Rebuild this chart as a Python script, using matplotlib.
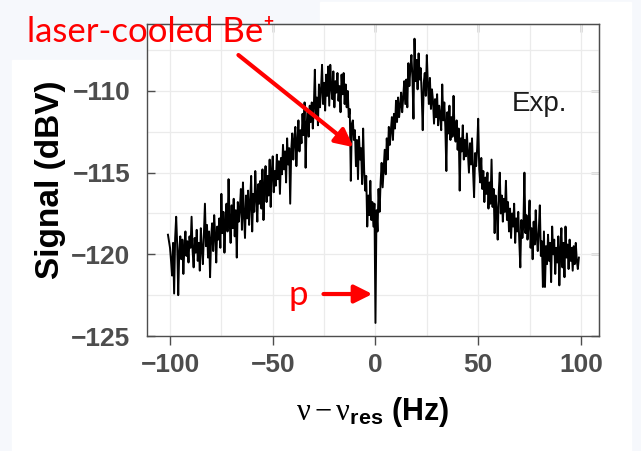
import numpy as np
import matplotlib
matplotlib.use("Agg")
from matplotlib import pyplot as plt
from matplotlib.patches import Rectangle
from matplotlib.ticker import MultipleLocator

# detuning grid of the recorded spectrum (Hz)
FREQ_START = -101.0
FREQ_STEP = 0.5

# measured signal (dBV), one value per grid point
SIGNAL_DBV = [
    -118.8, -119.2, -119.6, -120.4, -121.3, -119.3, -122.4, -119.0, -117.7, -119.4,
    -122.5, -119.8, -118.9, -120.3, -119.1, -121.2, -119.5, -118.6, -120.1, -119.2,
    -120.5, -118.9, -119.6, -117.7, -119.8, -120.8, -119.0, -119.9, -118.5, -120.4,
    -119.3, -121.0, -118.4, -119.7, -120.6, -118.8, -116.9, -119.5, -118.2, -120.2,
    -118.6, -121.4, -119.0, -118.1, -119.8, -117.6, -118.9, -120.5, -118.3, -119.1,
    -117.8, -119.6, -116.3, -118.7, -117.4, -119.9, -118.0, -116.9, -118.6, -115.4,
    -117.9, -119.3, -117.0, -118.4, -116.6, -118.9, -117.3, -120.2, -116.8, -118.0,
    -117.2, -116.0, -118.5, -115.6, -117.6, -119.0, -116.4, -117.8, -116.1, -118.2,
    -116.9, -115.2, -118.6, -116.3, -117.4, -114.9, -116.6, -118.0, -115.7, -116.9,
    -115.5, -117.2, -114.8, -117.9, -115.9, -114.6, -116.8, -115.2, -116.4, -114.2,
    -117.1, -115.0, -114.0, -116.2, -114.9, -115.8, -113.9, -115.4, -114.3, -116.3,
    -114.1, -115.1, -113.3, -114.8, -113.7, -115.6, -112.9, -114.5, -113.5, -116.9,
    -113.6, -112.6, -114.2, -113.0, -112.2, -114.6, -113.1, -111.8, -113.7, -112.4,
    -113.2, -111.4, -112.7, -110.7, -114.7, -112.0, -111.3, -112.8, -110.9, -111.9,
    -110.7, -112.3, -111.0, -108.7, -111.6, -110.4, -112.1, -109.6, -111.0, -109.9,
    -108.4, -110.8, -109.5, -111.2, -109.0, -110.3, -108.5, -110.9, -108.4, -109.8,
    -110.5, -108.8, -111.0, -109.4, -110.1, -108.9, -110.6, -109.7, -111.3, -109.0,
    -110.2, -108.9, -110.8, -109.6, -111.0, -110.0, -111.6, -111.1, -115.5, -112.0,
    -111.8, -113.0, -112.4, -114.6, -113.0, -115.4, -112.8, -114.2, -113.5, -115.7,
    -112.3, -114.9, -116.1, -115.2, -118.3, -116.4, -117.6, -115.5, -117.9, -116.8,
    -118.3, -116.9, -124.2, -117.3, -118.6, -116.0, -117.4, -115.6, -114.4, -115.9,
    -114.7, -113.6, -115.1, -112.9, -114.2, -112.2, -113.3, -112.4, -111.6, -113.0,
    -111.4, -112.3, -110.6, -111.9, -110.4, -111.6, -110.9, -110.1, -111.3, -110.4,
    -109.4, -110.8, -109.3, -111.0, -108.3, -109.7, -108.6, -107.8, -109.2, -111.7,
    -106.8, -109.4, -108.1, -109.9, -107.7, -109.3, -108.6, -110.2, -112.4, -109.5,
    -108.9, -110.3, -107.8, -109.6, -110.8, -109.2, -111.1, -109.9, -110.6, -112.0,
    -110.5, -111.6, -110.2, -112.1, -110.9, -111.5, -112.4, -109.6, -111.8, -110.7,
    -112.2, -114.9, -111.3, -112.6, -110.9, -113.0, -111.6, -112.8, -110.3, -112.5,
    -113.1, -111.8, -113.6, -112.3, -116.1, -112.9, -113.7, -112.1, -114.2, -113.0,
    -114.0, -112.6, -113.8, -115.0, -113.2, -114.5, -112.9, -114.9, -116.5, -113.8,
    -114.6, -113.5, -111.7, -114.8, -115.6, -114.1, -116.0, -114.9, -116.8, -115.3,
    -116.3, -115.0, -117.2, -115.6, -116.9, -114.2, -117.1, -116.0, -118.7, -116.4,
    -117.3, -119.1, -116.2, -115.0, -117.5, -116.4, -118.0, -116.6, -117.4, -115.5,
    -117.9, -116.8, -118.6, -117.2, -119.0, -117.5, -118.3, -116.9, -119.3, -117.8,
    -118.6, -117.4, -119.2, -120.8, -117.9, -119.0, -118.2, -115.0, -118.7, -117.6,
    -119.1, -118.2, -116.7, -119.6, -118.4, -120.3, -118.0, -119.4, -117.3, -118.9,
    -119.8, -118.5, -117.0, -120.1, -119.2, -122.0, -118.6, -122.0, -119.5, -120.6,
    -118.8, -120.4, -119.3, -121.7, -118.3, -120.0, -119.1, -121.2, -119.6, -120.5,
    -118.9, -121.9, -119.7, -118.4, -120.8, -119.3, -121.4, -118.3, -120.2, -119.4,
    -120.9, -119.1, -120.4, -119.6, -121.0, -119.5, -120.6, -119.3, -120.4, -120.9,
    -120.2,
]

X_TICKS = [-100, -50, 0, 50, 100]
Y_TICKS = [-125, -120, -115, -110]

TICK_GRAY = "#4d4d4d"

plt.rcParams["font.family"] = "Liberation Sans"
plt.rcParams["mathtext.fontset"] = "custom"
plt.rcParams["mathtext.rm"] = "Liberation Serif"
plt.rcParams["mathtext.it"] = "Liberation Serif:italic"
plt.rcParams["mathtext.bf"] = "Liberation Sans:bold"

freq = FREQ_START + FREQ_STEP * np.arange(len(SIGNAL_DBV))

W, H = 641, 451
fig = plt.figure(figsize=(W / 100, H / 100), dpi=100)
fig.patch.set_facecolor("#f6f8fc")

# white slide panel behind the plot
fig.patches.append(Rectangle((12 / W, 0), 619 / W, 1 - 60 / H,
                             transform=fig.transFigure, color="white", zorder=-5))
fig.patches.append(Rectangle((320 / W, 1 - 60 / H), 311 / W, 58 / H,
                             transform=fig.transFigure, color="white", zorder=-5))

ax = fig.add_axes([147 / W, 1 - 336 / H, 452 / W, 312 / H])
ax.plot(freq, SIGNAL_DBV, color="black", lw=1.4, zorder=3)

ax.set_xlim(-111.2, 108.8)
ax.set_ylim(-125, -105.9)
ax.set_xticks(X_TICKS)
ax.set_yticks(Y_TICKS)
ax.set_xticklabels([f"\u2212{-t}" if t < 0 else str(t) for t in X_TICKS])
ax.set_yticklabels([f"\u2212{-t}" for t in Y_TICKS])
ax.xaxis.set_minor_locator(MultipleLocator(25))
ax.yaxis.set_minor_locator(MultipleLocator(2.5))
ax.grid(which="both", color="#ebebeb", lw=0.9, zorder=0)
ax.set_axisbelow(True)

ax.tick_params(axis="x", which="major", direction="out", length=6.5, width=1,
               color=TICK_GRAY, labelcolor=TICK_GRAY, labelsize=19, pad=6)
ax.tick_params(axis="y", which="major", direction="in", length=6, width=1,
               color=TICK_GRAY, labelcolor=TICK_GRAY, labelsize=19, pad=12)
ax.tick_params(which="minor", length=0)
for lab in ax.get_xticklabels() + ax.get_yticklabels():
    lab.set_fontweight("bold")
for sp in ax.spines.values():
    sp.set_color(TICK_GRAY)
    sp.set_linewidth(1.0)

# inward ticks on the top and right edges, no labels
top = ax.secondary_xaxis("top")
top.set_xticks(X_TICKS)
top.tick_params(direction="in", length=6, width=1, color=TICK_GRAY, labeltop=False)
top.spines["top"].set_color(TICK_GRAY)
right = ax.secondary_yaxis("right")
right.set_yticks(Y_TICKS)
right.tick_params(direction="in", length=6, width=1, color=TICK_GRAY, labelright=False)
right.spines["right"].set_color(TICK_GRAY)

ax.set_xlabel(r"$\mathrm{\nu} - \mathrm{\nu}_{\mathbf{res}}$ (Hz)",
              fontsize=22, fontweight="bold", color="black")
ax.xaxis.set_label_coords(0.5, -0.19)
fig.text(51 / W, 1 - 180 / H, "Signal (dBV)", rotation=90, ha="center", va="center",
         fontsize=24, fontweight="bold", color="black")

ax.text(79.8, -111.24, "Exp.", ha="center", va="baseline", fontsize=20, color="#1c1c1c")

# annotations
red = "#ff0000"
fig.text(27 / W, 1 - 42 / H, "laser-cooled Be\u207a", color=red, fontsize=25,
         family=["Lato", "DejaVu Sans"], ha="left", va="baseline")
ax.annotate("", xy=(-10.7, -113.44), xytext=(-66.7, -107.8),
            arrowprops=dict(arrowstyle="-|>", color=red, lw=3, mutation_scale=27,
                            shrinkA=0, shrinkB=0), zorder=5)
ax.annotate("", xy=(-1.5, -122.43), xytext=(-25.3, -122.43),
            arrowprops=dict(arrowstyle="-|>", color=red, lw=3, mutation_scale=27,
                            shrinkA=0, shrinkB=0), zorder=5)
ax.text(-37.5, -123.1, "p", color=red, fontsize=25, family=["Lato", "DejaVu Sans"],
        ha="center", va="baseline")

fig.savefig("out.png", dpi=100, facecolor=fig.get_facecolor())
